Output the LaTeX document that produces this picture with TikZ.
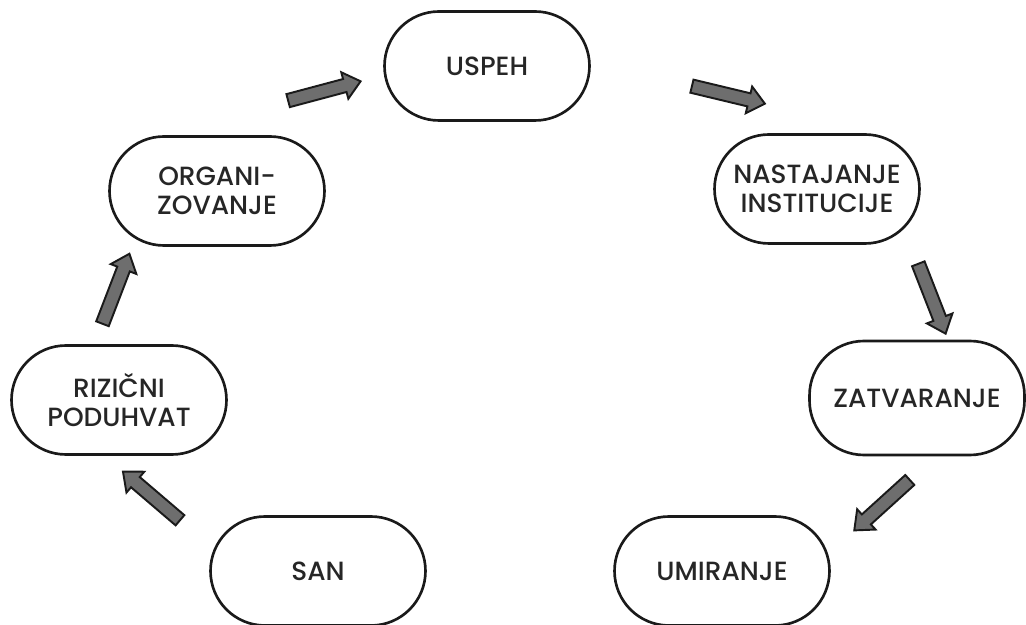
\documentclass[tikz,border=0pt]{standalone}
\usepackage{fontspec}
\setmainfont{Poppins}[UprightFont=* Medium]
\usetikzlibrary{shapes.arrows, positioning}
\definecolor{cline}{HTML}{1A1A1A}
\definecolor{ctext}{HTML}{262626}
\definecolor{carrow}{HTML}{6E6E6E}
\tikzset{
  stagebox/.style={draw=cline, fill=white, line width=1.5pt, rounded corners=1.09cm,
                   minimum width=4.3cm, minimum height=2.18cm, align=center,
                   text=ctext, font=\fontsize{15}{16.5}\selectfont},
  blockarr/.style={single arrow, draw=cline, fill=carrow, line width=1.1pt,
                   minimum height=1.5cm, inner xsep=0pt, inner ysep=0.115cm,
                   single arrow head extend=0.14cm, single arrow tip angle=80,
                   sloped, allow upside down},
}
\begin{document}
\begin{tikzpicture}

  \useasboundingbox (0,0) rectangle (20.52,12.5);

  %% ── Stages of the cycle ──
  \node[stagebox, minimum width=4.1cm] (uspeh) at (9.74, 11.18) {USPEH};
  \node[stagebox] (organizovanje) at (4.34, 8.68) {ORGANI-\\ZOVANJE};
  \node[stagebox, minimum width=4.1cm] (nastajanje) at (16.34, 8.72) {NASTAJANJE\\INSTITUCIJE};
  \node[stagebox] (rizicni) at (2.38, 4.50) {RIZIČNI\\PODUHVAT};
  \node[stagebox, minimum height=2.28cm] (zatvaranje) at (18.34, 4.54) {ZATVARANJE};
  \node[stagebox] (san) at (6.36, 1.08) {SAN};
  \node[stagebox] (umiranje) at (14.44, 1.08) {UMIRANJE};

  %% ── Arrow ends ──
  \coordinate (a1s) at (3.64, 2.06);  \coordinate (a1e) at (2.54, 3.00);
  \coordinate (a2s) at (2.04, 6.00);  \coordinate (a2e) at (2.54, 7.30);
  \coordinate (a3s) at (5.66, 10.46); \coordinate (a3e) at (7.16, 10.86);
  \coordinate (a4s) at (13.74, 10.80); \coordinate (a4e) at (15.24, 10.44);
  \coordinate (a5s) at (18.36, 7.24); \coordinate (a5e) at (18.86, 5.96);
  \coordinate (a6s) at (18.24, 2.94); \coordinate (a6e) at (17.16, 1.96);

  %% ── Block arrows ──
  \foreach \i in {1,...,6}{
    \path (a\i s) -- (a\i e) node[midway, blockarr] {};
  }

\end{tikzpicture}
\end{document}
